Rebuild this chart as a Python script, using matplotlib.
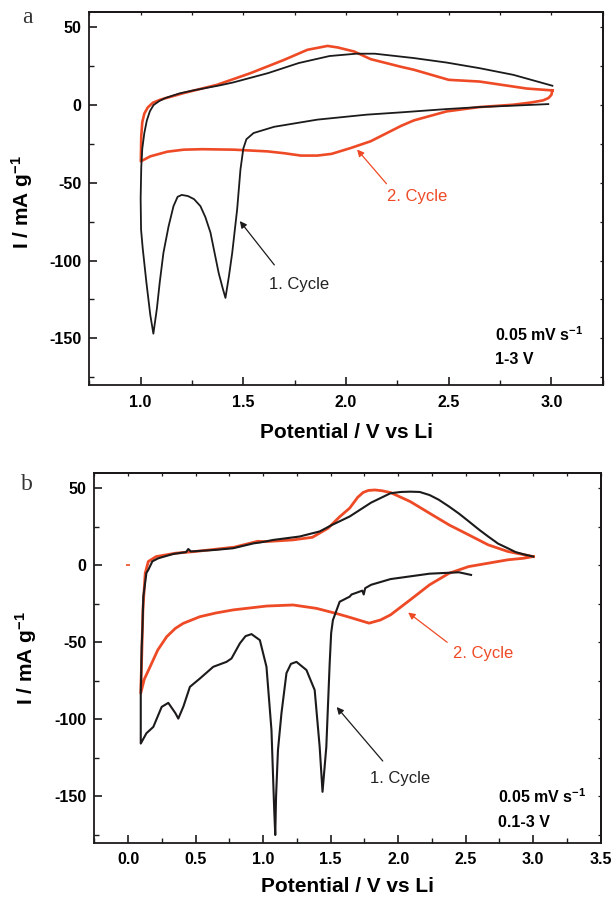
import numpy as np
import matplotlib
matplotlib.use("Agg")
import matplotlib.pyplot as plt
from matplotlib.ticker import MultipleLocator

plt.rcParams['font.family'] = ['Liberation Sans', 'DejaVu Sans']
plt.rcParams['mathtext.default'] = 'regular'
plt.rcParams['axes.unicode_minus'] = False

BLACK = '#1c1a1a'
RED = '#ee4a26'

# ---------------- Panel a data (1-3 V) ----------------
a_c1_x = [2.985, 2.815, 2.65, 2.49, 2.27, 2.1, 1.86, 1.65, 1.55, 1.515, 1.5, 1.486, 1.47, 1.446,
          1.43, 1.413, 1.40, 1.38, 1.36, 1.34, 1.315, 1.291, 1.26, 1.23, 1.2, 1.18, 1.16, 1.136,
          1.111, 1.093, 1.079, 1.062, 1.047, 1.028, 1.01, 1.002,
          1.0, 1.003, 1.008, 1.018, 1.03, 1.045, 1.063, 1.09, 1.12, 1.19, 1.26, 1.38,
          1.45, 1.62, 1.77, 1.92, 2.05, 2.14, 2.33, 2.49, 2.65, 2.815, 3.005]
a_c1_y = [0.6, -0.4, -1.3, -2.6, -4.7, -6.2, -9.4, -14, -18, -22, -28, -41.5, -67, -95,
          -110, -124, -118, -108, -95, -82, -72, -65, -60.5, -58.5, -57.8, -59, -65, -78,
          -95, -114, -131, -147, -135, -114, -92, -80,
          -60, -40, -28, -18, -10, -4, 0, 2.5, 4.5, 7.5, 9.5, 12.5,
          14.5, 20.5, 27, 31.5, 33, 33, 30.2, 27.3, 23.7, 19.4, 12.4]

a_c2_x = [3.005, 3.0, 2.986, 2.96, 2.9, 2.815, 2.65, 2.49, 2.33, 2.27, 2.216, 2.12, 2.024, 1.93,
          1.86, 1.78, 1.7, 1.617, 1.453, 1.3, 1.21, 1.13, 1.047, 1.001, 1.003, 1.008, 1.018,
          1.035, 1.06, 1.095, 1.21, 1.372, 1.535, 1.698, 1.812, 1.91, 1.96, 2.04, 2.12, 2.27,
          2.33, 2.5, 2.65, 2.88, 3.005]
a_c2_y = [9.4, 6.5, 4.5, 3.0, 1.6, 0.2, -1.3, -4.1, -9.9, -13.3, -16.9, -23.3, -27.6, -31.4,
          -32.5, -32.5, -31, -29.8, -28.7, -28.4, -28.7, -30, -33, -36.2, -20, -11, -5.5,
          -1.5, 1.5, 3.4, 7.7, 13, 20.5, 29, 35.5, 38, 37, 34.4, 29.5, 24.5,
          22.7, 16.2, 15.1, 10.6, 9.4]

# ---------------- Panel b data (0.1-3 V) ----------------
b_c1_x = [2.54, 2.45, 2.233, 1.944, 1.8, 1.756, 1.745, 1.735, 1.655, 1.641, 1.567, 1.517, 1.504,
          1.493, 1.468, 1.44, 1.419, 1.382, 1.321, 1.247, 1.206, 1.173, 1.136, 1.11, 1.096, 1.09,
          1.082, 1.062, 1.025, 0.976, 0.914, 0.87, 0.828, 0.766, 0.729, 0.631, 0.532, 0.458,
          0.41, 0.372, 0.35, 0.298, 0.249, 0.187, 0.136, 0.094, 0.094, 0.101, 0.107, 0.113,
          0.136, 0.15, 0.18, 0.224, 0.335, 0.43, 0.446, 0.465, 0.642, 0.778, 0.931, 0.976,
          1.076, 1.27, 1.419, 1.51, 1.641, 1.8, 1.944, 2.02, 2.089, 2.16, 2.233, 2.3, 2.378,
          2.45, 2.522, 2.6, 2.667, 2.74, 2.812, 2.87, 2.928, 3.0]
b_c1_y = [-6.3, -4.6, -5.5, -9, -12.7, -14.9, -19, -16.5, -19, -20.4, -23.7, -35.6, -44,
          -63.7, -118, -147, -118, -81, -68, -62.7, -64, -70, -96, -120, -150, -175,
          -158, -107, -65.9, -48.6, -44.7, -46, -50.7, -60.5, -62.7, -65.9, -73.5, -78.9,
          -91.6, -99.5, -95.9, -89.3, -91.9, -104.9, -109, -115.7, -84.3, -53, -39.7, -20.4,
          -5, -3, 2.5, 4.5, 7.3, 8.5, 10.5, 8.9, 9.9, 11, 14.2, 14.7,
          16.4, 18.6, 21.9, 26.1, 31.6, 40.6, 46.7, 47.5, 47.7, 47.5, 45.5, 42.5, 38,
          33.5, 28.5, 23, 18.6, 14, 11, 8.5, 7.1, 5.6]

b_c2_x = [3.0, 2.928, 2.812, 2.667, 2.522, 2.378, 2.233, 2.089, 1.944, 1.87, 1.785, 1.641,
          1.55, 1.395, 1.222, 1.025, 0.778, 0.65, 0.532, 0.409, 0.35, 0.286, 0.22, 0.163,
          0.12, 0.094, 0.098, 0.11, 0.127, 0.15, 0.208, 0.353, 0.498, 0.787, 0.96, 1.018,
          1.22, 1.365, 1.481, 1.568, 1.641, 1.7, 1.741, 1.78, 1.828, 1.88, 1.944, 2.089,
          2.233, 2.378, 2.522, 2.667, 2.812, 3.0]
b_c2_y = [5.6, 4.5, 3.5, 1.3, -0.9, -5.2, -12.7, -22.5, -32.2, -35.5, -37.6, -33.8,
          -31.5, -28, -25.8, -26.5, -29, -31, -33.4, -37.7, -41, -46.4, -55, -65.9,
          -74, -83, -70, -29, -5.2, 2.4, 5.6, 7.8, 8.9, 11.7, 15.5, 15.3,
          16.4, 18.1, 24, 31.5, 37, 44, 47.2, 48.5, 48.8, 48.3, 47.1, 41.3,
          33.7, 26.1, 19.7, 13.2, 8.9, 5.6]
b_stray_x = [0.0]
b_stray_y = [0.0]

fig = plt.figure(figsize=(6.12, 8.97), dpi=100)
W, H = 612.0, 897.0
axa = fig.add_axes([89.3 / W, 1 - 385 / H, 513.4 / W, 373.3 / H])
axb = fig.add_axes([94.3 / W, 1 - 842.7 / H, 506.4 / W, 370 / H])


def style(ax, xlim, xmaj):
    ax.set_xlim(*xlim)
    ax.set_ylim(-180, 60)
    ax.xaxis.set_major_locator(MultipleLocator(xmaj))
    ax.xaxis.set_minor_locator(MultipleLocator(0.25))
    ax.yaxis.set_major_locator(MultipleLocator(50))
    ax.yaxis.set_minor_locator(MultipleLocator(25))
    ax.tick_params(which='major', direction='in', length=5.8, width=1.2,
                   labelsize=11.5, color=BLACK)
    ax.tick_params(which='minor', direction='in', length=3.6, width=1.0, color=BLACK)
    ax.tick_params(axis='x', which='major', pad=7)
    ax.tick_params(axis='y', which='major', pad=5.5)
    for lab in ax.get_xticklabels() + ax.get_yticklabels():
        lab.set_fontweight('bold')
    for sp in ax.spines.values():
        sp.set_linewidth(1.3)
        sp.set_color(BLACK)
    top = ax.secondary_xaxis('top')
    top.xaxis.set_major_locator(MultipleLocator(0.25))
    top.tick_params(direction='in', length=2.4, width=0.9, labeltop=False, color=BLACK)
    top.spines['top'].set_linewidth(1.3)
    right = ax.secondary_yaxis('right')
    right.yaxis.set_major_locator(MultipleLocator(25))
    right.tick_params(direction='in', length=2.4, width=0.9, labelright=False, color=BLACK)
    right.spines['right'].set_linewidth(1.3)
    ax.set_xlabel('Potential / V vs Li', fontsize=15, fontweight='bold', va='baseline')
    ax.set_ylabel(r'I / mA g$^{-1}$', fontsize=15, fontweight='bold')


# Panel a
axa.plot(a_c1_x, a_c1_y, color=BLACK, lw=1.3, zorder=3)
axa.plot(a_c2_x, a_c2_y, color=RED, lw=1.9, zorder=2)
style(axa, (0.75, 3.25), 0.5)
axa.xaxis.set_label_coords(0.5, -0.1423)
axa.yaxis.set_label_coords(-0.106, 0.49)
axa.annotate('', xy=(1.483, -74.6), xytext=(1.651, -102.8),
             arrowprops=dict(arrowstyle='-|>', color=BLACK, lw=0.9, mutation_scale=10,
                             shrinkA=0, shrinkB=0))
axa.text(1.626, -118.4, '1. Cycle', fontsize=12, color='#222222', ha='left', va='baseline')
axa.annotate('', xy=(2.054, -28.6), xytext=(2.197, -50.6),
             arrowprops=dict(arrowstyle='-|>', color=RED, lw=0.9, mutation_scale=10,
                             shrinkA=0, shrinkB=0))
axa.text(2.2, -61.8, '2. Cycle', fontsize=12, color=RED, ha='left', va='baseline')
axa.text(0.7896, 0.1187, r'0.05 mV s$^{-1}$', transform=axa.transAxes, fontsize=11.5,
         fontweight='bold', ha='left', va='baseline')
axa.text(0.7896, 0.0555, '1-3 V', transform=axa.transAxes, fontsize=11.5,
         fontweight='bold', ha='left', va='baseline')

# Panel b
axb.plot(b_c1_x, b_c1_y, color=BLACK, lw=1.5, zorder=3)
axb.plot(b_c2_x, b_c2_y, color=RED, lw=2.0, zorder=2)
axb.plot(b_stray_x, b_stray_y, marker='_', ms=3, mew=1.2, color=RED, ls='none')
style(axb, (-0.25, 3.5), 0.5)
axb.xaxis.set_label_coords(0.5, -0.1324)
axb.yaxis.set_label_coords(-0.11, 0.5)
axb.annotate('', xy=(1.545, -92), xytext=(1.886, -127),
             arrowprops=dict(arrowstyle='-|>', color=BLACK, lw=0.9, mutation_scale=10,
                             shrinkA=0, shrinkB=0))
axb.text(1.79, -141, '1. Cycle', fontsize=12, color='#222222', ha='left', va='baseline')
axb.annotate('', xy=(2.074, -30.7), xytext=(2.363, -50),
             arrowprops=dict(arrowstyle='-|>', color=RED, lw=0.9, mutation_scale=10,
                             shrinkA=0, shrinkB=0))
axb.text(2.407, -60.3, '2. Cycle', fontsize=12, color=RED, ha='left', va='baseline')
axb.text(0.7966, 0.1065, r'0.05 mV s$^{-1}$', transform=axb.transAxes, fontsize=11.5,
         fontweight='bold', ha='left', va='baseline')
axb.text(0.7966, 0.0432, '0.1-3 V', transform=axb.transAxes, fontsize=11.5,
         fontweight='bold', ha='left', va='baseline')

# Panel letters
fig.text(27.5 / W, 1 - 23.3 / H, 'a', fontsize=17, family='Liberation Serif',
         ha='center', va='baseline', color='#333333')
fig.text(26.7 / W, 1 - 490 / H, 'b', fontsize=17, family='Liberation Serif',
         ha='center', va='baseline', color='#333333')

fig.savefig('out.png', dpi=100)
